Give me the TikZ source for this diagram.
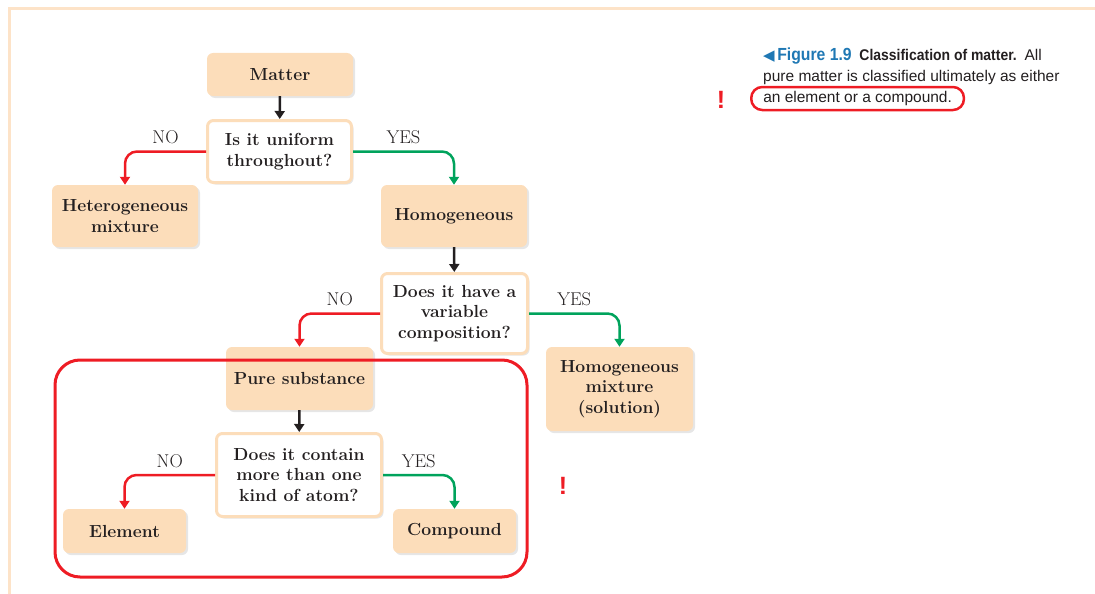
\documentclass[tikz,border=0pt]{standalone}
\usepackage{fontspec}
\usetikzlibrary{arrows.meta,shadows}
\newfontfamily\capfont{Liberation Sans}
\newfontfamily\capnarrow[FakeStretch=0.9]{Liberation Sans}
\newfontfamily\symfont{DejaVu Sans}
\definecolor{boxpeach}{HTML}{FCDDBA}
\definecolor{framepeach}{HTML}{FDE3C8}
\definecolor{noRed}{HTML}{EE1C24}
\definecolor{yesGreen}{HTML}{00A35C}
\definecolor{figBlue}{HTML}{1F78B4}
\definecolor{inkGrey}{HTML}{231F20}

\begin{document}
\begin{tikzpicture}[x=1pt,y=-1pt,
  answer/.style={fill=boxpeach, rounded corners=6pt, align=center, text=inkGrey,
    font=\fontsize{17.5}{20.5}\selectfont\bfseries,
    drop shadow={shadow xshift=2pt,shadow yshift=-2pt,opacity=0.2}},
  question/.style={answer, fill=white, draw=boxpeach, line width=3pt},
  downlink/.style={draw=inkGrey, line width=2.5pt, -{Triangle[width=10pt,length=8pt]}},
  nolink/.style={draw=noRed, line width=2.5pt, rounded corners=12pt, -{Triangle[width=10pt,length=8pt]}},
  yeslink/.style={nolink, draw=yesGreen},
  tag/.style={font=\fontsize{18.5}{20}\selectfont, text=inkGrey, above=3pt},
  alert/.style={text=noRed, font=\capfont\bfseries\fontsize{25}{25}\selectfont}]
\useasboundingbox (0,0) rectangle (1095,594);

% page frame
\draw[framepeach, line width=3pt] (9,594) -- (9,9) -- (1095,9);

% boxes
\node[answer, minimum width=146pt, minimum height=43pt] (matter) at (280,74.5) {Matter};
\node[question, minimum width=144pt, minimum height=62pt] (uniform) at (279.5,151.5) {Is it uniform\\throughout?};
\node[answer, minimum width=146pt, minimum height=62pt] (hetero) at (125,216) {Heterogeneous\\mixture};
\node[answer, minimum width=146pt, minimum height=62pt] (homog) at (454,216) {Homogeneous};
\node[question, minimum width=146pt, minimum height=80pt] (variable) at (454.5,313.5) {Does it have a\\variable\\composition?};
\node[answer, minimum width=147pt, minimum height=63pt] (pure) at (299.5,378.5) {Pure substance};
\node[answer, minimum width=147pt, minimum height=84pt] (solution) at (619.5,389) {Homogeneous\\mixture\\(solution)};
\node[question, minimum width=165pt, minimum height=83pt] (contain) at (299,475) {Does it contain\\more than one\\kind of atom?};
\node[answer, minimum width=123pt, minimum height=44pt] (element) at (124.5,531) {Element};
\node[answer, minimum width=123pt, minimum height=44pt] (compound) at (454.5,531) {Compound};

% straight arrows
\draw[downlink] (matter) -- (uniform);
\draw[downlink] (homog) -- (variable);
\draw[downlink] (pure) -- (contain);

% yes / no branches
\foreach \q/\no/\yes in {uniform/hetero/homog, variable/pure/solution, contain/element/compound} {
  \draw[nolink] (\q.west) -| (\no.north) node[tag, pos=0.25] {NO};
  \draw[yeslink] (\q.east) -| (\yes.north) node[tag, pos=0.25] {YES};
}

% pure substance group
\draw[noRed, line width=3pt, rounded corners=25pt] (55,360) rectangle (527,577);
\node[alert] (markB) at (563,486) {!};

% caption
\node[anchor=west, inner sep=0pt, font=\capfont\fontsize{15.5}{20}\selectfont, text=inkGrey] (capA) at (763,56)
  {\textcolor{figBlue}{{\symfont\fontsize{15}{15}\selectfont ◀}\,\capnarrow\bfseries\fontsize{17.5}{20}\selectfont Figure 1.9}\enspace{\capnarrow\bfseries Classification of matter.}\enspace All};
\node[anchor=west, inner sep=0pt, font=\capfont\fontsize{15.5}{20}\selectfont, text=inkGrey] (capB) at (763,77)
  {pure matter is classified ultimately as either};
\node[anchor=west, draw=noRed, line width=2.5pt, rounded corners=11pt, inner xsep=12pt, minimum height=23pt,
  font=\capfont\fontsize{15.5}{20}\selectfont, text=inkGrey] (capC) at (750,98.5)
  {an element or a compound.};
\node[alert] (markA) at (721,100) {!};
\end{tikzpicture}
\end{document}
